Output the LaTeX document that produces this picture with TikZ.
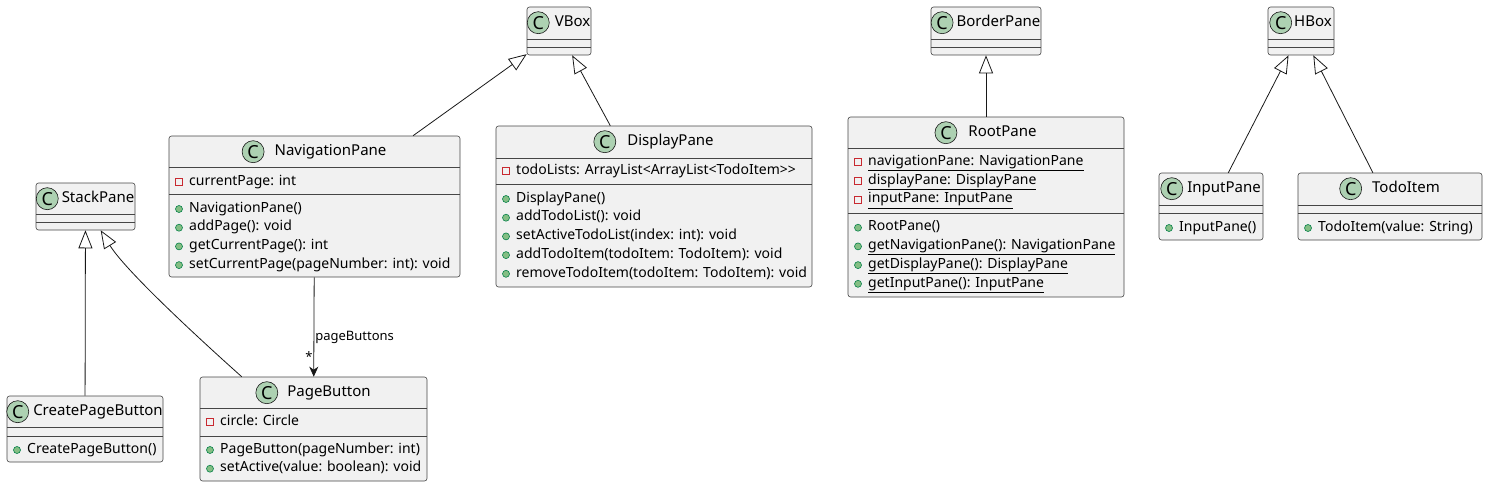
\documentclass[tikz,border=0pt]{standalone}
\usepackage{fontspec}
\setmainfont{Noto Sans}
\usetikzlibrary{arrows.meta,positioning}

\definecolor{boxfill}{HTML}{F1F1F1}
\definecolor{boxline}{HTML}{181818}
\definecolor{cfill}{HTML}{ADD1B2}
\definecolor{privred}{HTML}{C82930}
\definecolor{pubfill}{HTML}{84BE84}
\definecolor{publine}{HTML}{038048}

\tikzset{
  cls/.style={draw=boxline!80, fill=boxfill, rounded corners=2.5pt, line width=0.6pt, inner sep=0pt},
  ctitle/.style={inner sep=0pt, text height=10.5pt, text depth=3pt, font=\fontsize{15}{17}\selectfont},
  cicon/.style={circle, draw=boxline, fill=cfill, minimum size=22pt, inner sep=0pt, line width=0.6pt,
    font=\fontsize{18}{18}\selectfont\bfseries},
  member/.style={anchor=west, inner sep=0pt, text height=9.5pt, text depth=3pt, font=\fontsize{14}{16}\selectfont},
  lbl/.style={inner sep=0pt, font=\fontsize{13}{15}\selectfont},
  sepline/.style={draw=boxline!80, line width=0.6pt},
  inh/.style={draw=boxline, line width=0.8pt, -{Triangle[open, length=18pt, width=14pt]}},
  assoc/.style={draw=boxline, line width=0.8pt, -{Stealth[length=10pt, width=9pt, inset=3pt]}},
}

% class box: name, left, top, right, bottom, title, gap, separator 1, separator 2
\newcommand\umlclass[9]{%
  \node[cls, minimum width={(#4-#2)*1pt}, minimum height={(#5-#3)*1pt}] (#1) at ({(#2+#4)/2},{(#3+#5)/2}) {};
  \node[ctitle, xshift={(22+#7)/2*1pt}] (#1-t) at ([yshift=-16pt]#1.north) {#6};
  \node[cicon, left=#7pt of #1-t] (#1-c) {C};
  \draw[sepline] (#2,#8) -- (#4,#8);
  \draw[sepline] (#2,#9) -- (#4,#9);
}
\newcommand\iconpriv[2]{\draw[privred, line width=0.8pt] (#1-3.5,#2-3.5) rectangle (#1+3.5,#2+3.5);}
\newcommand\iconpub[2]{\draw[publine, fill=pubfill, line width=0.6pt] (#1,#2) circle (3.5);}
% member rows: prefix, left x, first y, list of kind/text
\newcommand\umlrows[4]{%
  \foreach [count=\i] \k/\m in {#4} {
    \pgfmathsetmacro\ry{#3+(\i-1)*18.7}
    \csname icon\k\endcsname{#2+10}{\ry}
    \node[member] (#1-\i) at (#2+20,\ry) {\m};
  }}

\begin{document}
\begin{tikzpicture}[x=1pt, y=-1pt]
  \useasboundingbox (0,0) rectangle (1487,487);

  % super classes
  \umlclass{vbox}{527}{7}{591}{55}{VBox}{5}{39}{47}
  \umlclass{border}{931}{7}{1041}{55}{BorderPane}{3}{39}{47}
  \umlclass{hbox}{1268}{7}{1334}{55}{HBox}{2}{39}{47}
  \umlclass{stack}{36}{183}{135}{230}{StackPane}{3}{214}{222}

  % NavigationPane
  \umlclass{nav}{169}{136}{460}{277}{NavigationPane}{10}{167}{194}
  \umlrows{nav-f}{169}{182}{priv/{currentPage: int}}
  \umlrows{nav-m}{169}{209}{pub/{NavigationPane()}, pub/{addPage(): void},
    pub/{getCurrentPage(): int}, pub/{setCurrentPage(pageNumber: int): void}}

  % DisplayPane
  \umlclass{disp}{496}{126}{812}{287}{DisplayPane}{11}{158}{184}
  \umlrows{disp-f}{496}{171}{priv/{todoLists: ArrayList<ArrayList<TodoItem>{}>}}
  \umlrows{disp-m}{496}{199}{pub/{DisplayPane()}, pub/{addTodoList(): void},
    pub/{setActiveTodoList(index: int): void}, pub/{addTodoItem(todoItem: TodoItem): void},
    pub/{removeTodoItem(todoItem: TodoItem): void}}

  % RootPane
  \umlclass{root}{848}{117}{1124}{297}{RootPane}{11}{148}{213}
  \umlrows{root-f}{848}{162.3}{priv/{\underline{navigationPane: NavigationPane}},
    priv/{\underline{displayPane: DisplayPane}}, priv/{\underline{inputPane: InputPane}}}
  \umlrows{root-m}{848}{227.7}{pub/{RootPane()}, pub/{\underline{getNavigationPane(): NavigationPane}},
    pub/{\underline{getDisplayPane(): DisplayPane}}, pub/{\underline{getInputPane(): InputPane}}}

  % HBox children
  \umlclass{input}{1159}{173}{1263}{240}{InputPane}{4}{205}{213}
  \umlrows{input-m}{1159}{228}{pub/{InputPane()}}
  \umlclass{todo}{1298}{173}{1482}{240}{TodoItem}{10}{205}{213}
  \umlrows{todo-m}{1298}{228}{pub/{TodoItem(value: String)}}

  % buttons
  \umlclass{cpb}{7}{396}{163}{462}{CreatePageButton}{4}{427}{436}
  \umlrows{cpb-m}{7}{450}{pub/{CreatePageButton()}}
  \umlclass{pbtn}{200}{377}{427}{481}{PageButton}{9}{408}{436}
  \umlrows{pbtn-f}{200}{422}{priv/{circle: Circle}}
  \umlrows{pbtn-m}{200}{450}{pub/{PageButton(pageNumber: int)}, pub/{setActive(value: boolean): void}}

  % inheritance
  \draw[inh] (nav) -- (vbox);
  \draw[inh] (disp) -- (vbox);
  \draw[inh] (root) -- (border);
  \draw[inh] (input) -- (hbox);
  \draw[inh] (todo) -- (hbox);
  \draw[inh] (cpb) -- (stack);
  \draw[inh] ([xshift=42pt]pbtn.north west) .. controls (195,335) and (125,270) .. ([xshift=65pt]stack.south west);

  % association
  \draw[assoc] (nav) -- (pbtn)
    node[lbl, pos=0.6, right=1pt] (pb-lbl) {pageButtons}
    node[lbl, pos=0.8, left=1pt] (pb-mult) {*};
\end{tikzpicture}
\end{document}
